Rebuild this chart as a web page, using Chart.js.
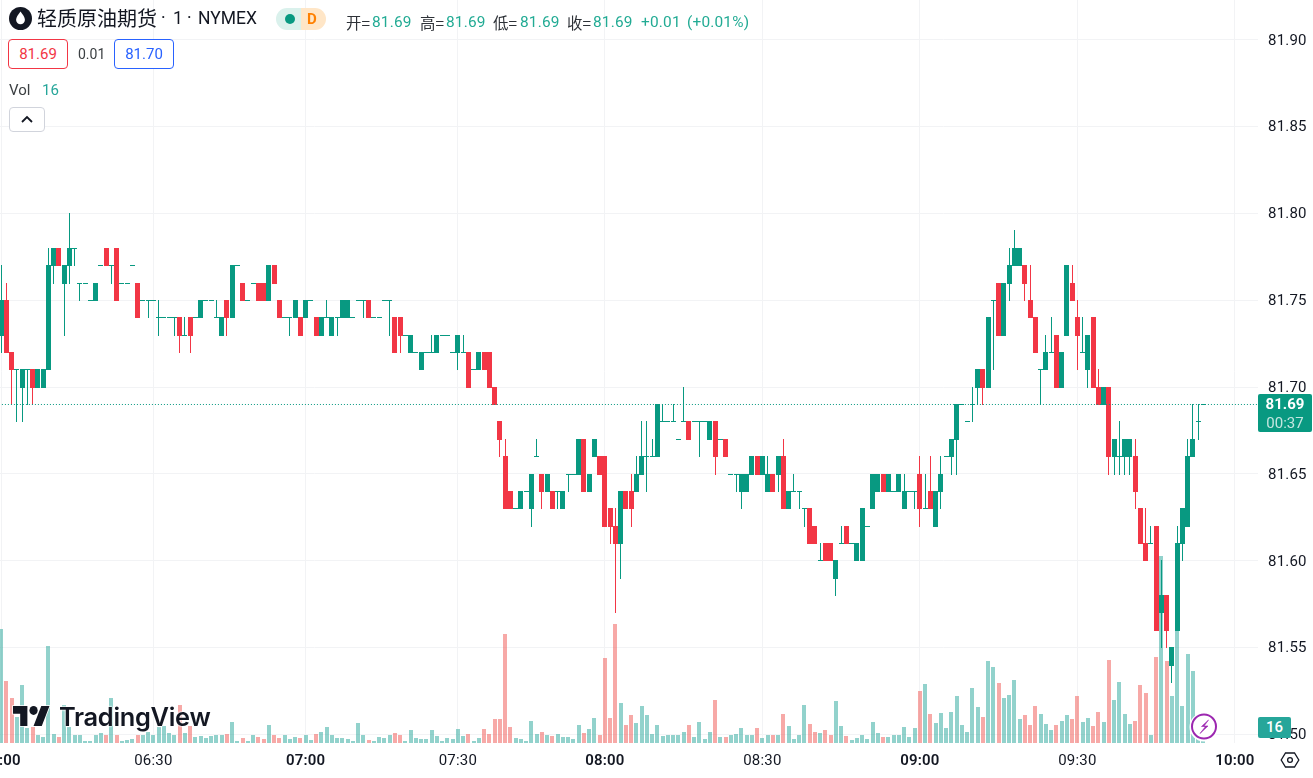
<!DOCTYPE html>
<html>
<head>
<meta charset="utf-8">
<title>轻质原油期货</title>
<script src="https://cdn.jsdelivr.net/npm/chart.js@4/dist/chart.umd.min.js"></script>
<style>
  html, body { margin: 0; padding: 0; background: #fff; overflow: hidden; }
  #wrap { position: relative; width: 1313px; height: 778px; overflow: hidden; font-family: Roboto, "Noto Sans CJK SC", sans-serif; color: #131722; }
  #wrap canvas { position: absolute; left: 0; top: 0; }
  .t { position: absolute; white-space: nowrap; line-height: 20px; }
  .up { color: #22ab94; }
  .h { font-size: 15.4px; top: 12px; }
  .cj { font-family: "Noto Sans CJK SC", sans-serif; color: #2e3238; }
  .box { position: absolute; box-sizing: border-box; border-radius: 4px; background: #fff; text-align: center; font-size: 15px; height: 30px; line-height: 28px; top: 39px; width: 60px; }
  .badge { position: absolute; color: #fff; text-align: center; border-radius: 2px; }
</style>
</head>
<body>
<div id="wrap">
  <canvas id="priceChart" width="1313" height="778"></canvas>

  <!-- 左上角标题 -->
  <svg style="position:absolute;left:9px;top:7px" width="23" height="23" viewBox="0 0 23 23">
    <circle cx="11.5" cy="11.5" r="11.5" fill="#131722"/>
    <path d="M11.5 4.5c2.6 3.4 4.4 5.9 4.4 8.3a4.4 4.4 0 0 1-8.8 0c0-2.4 1.8-4.9 4.4-8.3z" fill="#fff"/>
  </svg>
  <span class="t" style="left:37px;top:8px;font-size:20px;font-family:'Noto Sans CJK SC',sans-serif;color:#131722">轻质原油期货</span>
  <span class="t" style="left:161px;top:8px;font-size:17.5px;color:#131722">·</span>
  <span class="t" style="left:173px;top:8px;font-size:17.5px;color:#131722">1</span>
  <span class="t" style="left:187px;top:8px;font-size:17.5px;color:#131722">·</span>
  <span class="t" style="left:198px;top:8px;font-size:17.5px;color:#131722">NYMEX</span>

  <div style="position:absolute;left:276px;top:8px;width:25px;height:22px;background:#daf1ec;border-radius:11px 0 0 11px"></div>
  <div style="position:absolute;left:301px;top:8px;width:25px;height:22px;background:#ffe6c7;border-radius:0 11px 11px 0"></div>
  <div style="position:absolute;left:285px;top:14px;width:10px;height:10px;background:#089981;border-radius:50%"></div>
  <span class="t" style="left:307px;top:9px;font-size:15px;font-weight:700;color:#ff8000">D</span>

  <span class="t h cj" style="left:346px">开=</span><span class="t h up" style="left:372px;letter-spacing:.2px">81.69</span>
  <span class="t h cj" style="left:420px">高=</span><span class="t h up" style="left:446px;letter-spacing:.2px">81.69</span>
  <span class="t h cj" style="left:493px">低=</span><span class="t h up" style="left:520px;letter-spacing:.2px">81.69</span>
  <span class="t h cj" style="left:567px">收=</span><span class="t h up" style="left:593px;letter-spacing:.2px">81.69</span>
  <span class="t h up" style="left:641px;letter-spacing:.2px">+0.01</span>
  <span class="t h up" style="left:687px;letter-spacing:.2px">(+0.01%)</span>

  <div class="box" style="left:8px;border:1px solid #f23645;color:#f23645">81.69</div>
  <span class="t" style="left:78px;top:44px;font-size:14px;color:#3c4043">0.01</span>
  <div class="box" style="left:114px;border:1px solid #2962ff;color:#2962ff">81.70</div>

  <span class="t" style="left:9px;top:80px;font-size:15px;color:#3c4043">Vol</span>
  <span class="t" style="left:42px;top:80px;font-size:15px;color:#26a69a">16</span>
  <div style="position:absolute;left:9px;top:107px;width:36px;height:25px;box-sizing:border-box;border:1px solid #d1d4dc;border-radius:4px;background:#fff"></div>
  <svg style="position:absolute;left:20px;top:115px" width="14" height="9" viewBox="0 0 14 9"><path d="M2 7l5-5 5 5" fill="none" stroke="#131722" stroke-width="1.8"/></svg>

  <!-- TradingView 水印 -->
  <svg style="position:absolute;left:13px;top:706px;overflow:visible" width="37" height="20" viewBox="0 4 36 18" preserveAspectRatio="none">
    <path d="M14 22H7V11H0V4h14v18zM28 22h-8l7.5-18h8L28 22z" fill="#131722" stroke="#fff" stroke-width="1.5" paint-order="stroke"/>
    <circle cx="20" cy="8" r="4" fill="#131722"/>
  </svg>
  <span class="t" style="left:59px;top:707px;font-family:Inter,sans-serif;font-weight:600;font-size:25.4px;letter-spacing:-.3px;color:#131722;text-shadow:0 0 2px #fff,0 0 2px #fff,0 0 2px #fff">TradingView</span>

  <!-- 闪电图标 -->
  <svg style="position:absolute;left:1189px;top:712px" width="30" height="30" viewBox="0 0 30 30">
    <circle cx="15" cy="15" r="14.5" fill="#fff"/>
    <circle cx="15" cy="14.5" r="12" fill="#fff" stroke="#9c27b0" stroke-width="2"/>
    <path d="M19.5 8l-7 6.5h4l-5.5 7 8-7.5h-4z" fill="#9c27b0" stroke="#9c27b0" stroke-width=".6"/>
  </svg>

  <!-- 右侧价格标签 -->
  <div class="badge" style="left:1258px;top:394px;width:54px;height:38px;background:#089981">
    <div style="font-size:15px;font-weight:700;line-height:19px;margin-top:1px">81.69</div>
    <div style="font-size:15px;line-height:18px;color:#c4e6e0">00:37</div>
  </div>
  <div class="badge" style="left:1258px;top:717px;width:33px;height:21px;line-height:21px;font-size:15px;font-weight:500;background:#26a69a">16</div>

  <svg style="position:absolute;left:1279px;top:749px" width="22" height="22" viewBox="0 0 22 22">
    <path d="M6.5 4h9l4.3 7-4.3 7h-9L2.2 11z" fill="none" stroke="#131722" stroke-width="1.3"/>
    <circle cx="11" cy="11" r="2.4" fill="none" stroke="#131722" stroke-width="1.3"/>
  </svg>
</div>

<script>
// K线数据 (1分钟)
const opens = [
  81.73,81.75,81.72,81.71,81.70,81.71,81.71,81.70,81.70,81.71,
  81.77,81.78,81.76,81.77,81.78,81.76,81.76,81.75,81.75,81.77,
  81.78,81.77,81.78,81.76,81.76,81.77,81.76,81.75,81.75,81.75,
  81.74,81.74,81.74,81.74,81.74,81.73,81.74,81.74,81.74,81.75,
  81.75,81.74,81.73,81.75,81.74,81.77,81.76,81.75,81.76,81.76,
  81.76,81.75,81.77,81.75,81.74,81.74,81.74,81.74,81.74,81.75,
  81.74,81.73,81.74,81.73,81.74,81.74,81.74,81.74,81.75,81.75,
  81.75,81.74,81.74,81.75,81.75,81.74,81.74,81.73,81.72,81.72,
  81.71,81.72,81.72,81.72,81.73,81.73,81.72,81.72,81.72,81.72,
  81.71,81.71,81.72,81.72,81.70,81.68,81.66,81.64,81.63,81.63,
  81.64,81.63,81.66,81.65,81.64,81.64,81.64,81.63,81.65,81.65,
  81.65,81.67,81.64,81.66,81.66,81.66,81.63,81.62,81.61,81.64,
  81.64,81.64,81.65,81.66,81.66,81.66,81.68,81.68,81.68,81.67,
  81.68,81.68,81.68,81.68,81.68,81.67,81.68,81.67,81.67,81.65,
  81.65,81.64,81.64,81.65,81.66,81.65,81.64,81.65,81.65,81.66,
  81.63,81.64,81.64,81.63,81.63,81.62,81.60,81.61,81.61,81.59,
  81.61,81.62,81.61,81.60,81.60,81.62,81.63,81.64,81.65,81.64,
  81.64,81.64,81.63,81.64,81.64,81.65,81.63,81.64,81.62,81.64,
  81.66,81.66,81.67,81.69,81.68,81.69,81.70,81.71,81.70,81.75,
  81.76,81.73,81.76,81.77,81.77,81.77,81.75,81.74,81.71,81.71,
  81.72,81.73,81.70,81.73,81.76,81.74,81.72,81.71,81.74,81.70,
  81.69,81.70,81.66,81.66,81.66,81.66,81.66,81.63,81.61,81.61,
  81.62,81.57,81.58,81.54,81.56,81.61,81.62,81.66,81.68,81.69
];
const highs = [
  81.77,81.76,81.72,81.71,81.71,81.71,81.71,81.71,81.71,81.78,
  81.78,81.78,81.77,81.80,81.78,81.76,81.76,81.75,81.76,81.77,
  81.78,81.77,81.78,81.76,81.76,81.77,81.76,81.75,81.75,81.75,
  81.75,81.74,81.74,81.74,81.74,81.74,81.74,81.74,81.75,81.75,
  81.75,81.75,81.74,81.75,81.77,81.77,81.76,81.75,81.76,81.76,
  81.76,81.77,81.77,81.75,81.74,81.74,81.75,81.74,81.75,81.75,
  81.74,81.74,81.75,81.74,81.74,81.75,81.75,81.74,81.75,81.75,
  81.75,81.74,81.74,81.75,81.75,81.74,81.74,81.73,81.73,81.72,
  81.72,81.72,81.73,81.73,81.73,81.73,81.72,81.73,81.73,81.72,
  81.71,81.72,81.72,81.72,81.70,81.68,81.67,81.64,81.63,81.64,
  81.64,81.65,81.67,81.65,81.65,81.64,81.64,81.64,81.65,81.65,
  81.67,81.67,81.65,81.67,81.66,81.66,81.63,81.63,81.64,81.64,
  81.65,81.66,81.68,81.68,81.67,81.69,81.69,81.68,81.69,81.67,
  81.70,81.68,81.68,81.68,81.68,81.68,81.68,81.67,81.67,81.65,
  81.65,81.65,81.65,81.66,81.66,81.66,81.66,81.65,81.66,81.67,
  81.64,81.65,81.64,81.63,81.63,81.62,81.61,81.61,81.61,81.60,
  81.62,81.62,81.61,81.61,81.63,81.62,81.65,81.65,81.65,81.65,
  81.64,81.65,81.65,81.64,81.64,81.66,81.65,81.66,81.64,81.66,
  81.66,81.67,81.69,81.69,81.68,81.70,81.71,81.71,81.74,81.75,
  81.76,81.76,81.78,81.79,81.78,81.77,81.77,81.74,81.71,81.73,
  81.74,81.73,81.72,81.77,81.77,81.75,81.74,81.73,81.74,81.71,
  81.70,81.70,81.67,81.68,81.67,81.67,81.67,81.63,81.63,81.62,
  81.62,81.60,81.58,81.55,81.62,81.63,81.67,81.69,81.69,81.69
];
const lows = [
  81.72,81.72,81.69,81.68,81.68,81.69,81.69,81.70,81.70,81.71,
  81.76,81.77,81.73,81.76,81.77,81.75,81.76,81.75,81.75,81.77,
  81.77,81.76,81.75,81.76,81.76,81.77,81.74,81.75,81.74,81.75,
  81.73,81.74,81.74,81.73,81.72,81.73,81.72,81.74,81.74,81.75,
  81.75,81.74,81.73,81.73,81.74,81.77,81.75,81.75,81.76,81.75,
  81.75,81.75,81.76,81.74,81.74,81.73,81.74,81.73,81.74,81.75,
  81.73,81.73,81.74,81.73,81.73,81.74,81.74,81.74,81.75,81.74,
  81.74,81.74,81.74,81.75,81.73,81.72,81.72,81.73,81.72,81.72,
  81.71,81.72,81.72,81.72,81.73,81.73,81.72,81.71,81.72,81.70,
  81.71,81.71,81.71,81.70,81.69,81.66,81.63,81.63,81.63,81.63,
  81.64,81.62,81.66,81.63,81.64,81.63,81.63,81.63,81.64,81.65,
  81.65,81.64,81.64,81.66,81.65,81.62,81.61,81.57,81.59,81.63,
  81.62,81.64,81.65,81.64,81.66,81.66,81.68,81.68,81.68,81.67,
  81.68,81.67,81.68,81.66,81.68,81.67,81.65,81.67,81.66,81.65,
  81.64,81.63,81.64,81.65,81.65,81.65,81.64,81.64,81.64,81.63,
  81.63,81.64,81.63,81.62,81.61,81.61,81.60,81.60,81.60,81.58,
  81.61,81.61,81.61,81.60,81.60,81.62,81.63,81.64,81.64,81.64,
  81.64,81.64,81.63,81.64,81.63,81.62,81.63,81.63,81.62,81.63,
  81.66,81.65,81.65,81.69,81.68,81.68,81.69,81.69,81.70,81.71,
  81.73,81.73,81.75,81.77,81.77,81.75,81.74,81.72,81.69,81.71,
  81.72,81.70,81.70,81.73,81.75,81.71,81.72,81.70,81.70,81.69,
  81.69,81.65,81.65,81.65,81.65,81.65,81.63,81.61,81.60,81.61,
  81.56,81.55,81.55,81.53,81.56,81.60,81.62,81.66,81.67,81.69
];
const closes = [
  81.75,81.72,81.71,81.71,81.71,81.71,81.70,81.71,81.71,81.77,
  81.78,81.77,81.77,81.78,81.78,81.76,81.76,81.75,81.76,81.77,
  81.77,81.77,81.75,81.76,81.76,81.77,81.74,81.75,81.75,81.75,
  81.74,81.74,81.74,81.74,81.73,81.73,81.73,81.74,81.75,81.75,
  81.75,81.74,81.74,81.74,81.77,81.77,81.75,81.75,81.76,81.75,
  81.75,81.77,81.76,81.74,81.74,81.74,81.75,81.73,81.75,81.75,
  81.73,81.74,81.74,81.74,81.74,81.75,81.75,81.74,81.75,81.75,
  81.74,81.74,81.74,81.75,81.75,81.72,81.73,81.73,81.73,81.72,
  81.72,81.72,81.72,81.73,81.73,81.73,81.72,81.73,81.72,81.70,
  81.71,81.72,81.71,81.70,81.69,81.67,81.63,81.63,81.63,81.64,
  81.64,81.65,81.66,81.64,81.65,81.63,81.64,81.64,81.65,81.65,
  81.67,81.64,81.65,81.67,81.65,81.62,81.62,81.61,81.64,81.63,
  81.63,81.65,81.66,81.66,81.66,81.69,81.68,81.68,81.68,81.67,
  81.68,81.67,81.68,81.68,81.68,81.68,81.66,81.67,81.66,81.65,
  81.65,81.65,81.65,81.66,81.65,81.66,81.65,81.64,81.66,81.63,
  81.64,81.64,81.64,81.63,81.61,81.61,81.60,81.60,81.60,81.60,
  81.61,81.61,81.61,81.61,81.63,81.62,81.65,81.65,81.64,81.65,
  81.64,81.65,81.64,81.64,81.64,81.63,81.63,81.63,81.64,81.65,
  81.66,81.67,81.69,81.69,81.68,81.69,81.71,81.70,81.74,81.75,
  81.73,81.76,81.77,81.78,81.78,81.76,81.74,81.72,81.71,81.72,
  81.72,81.70,81.72,81.77,81.75,81.73,81.72,81.73,81.70,81.69,
  81.70,81.66,81.67,81.66,81.67,81.67,81.64,81.61,81.60,81.61,
  81.56,81.58,81.56,81.55,81.61,81.63,81.66,81.67,81.68,81.69
];
const volumes = [
  121,66,48,28,62,16,17,9,6,103,
  10,6,40,17,8,8,2,2,8,11,
  8,48,8,2,3,4,8,9,12,9,
  17,18,11,8,40,11,18,6,7,5,
  7,8,8,10,22,2,5,2,8,6,
  4,19,9,5,8,4,6,5,9,3,
  10,12,17,8,5,5,4,2,21,8,
  3,2,6,5,8,11,8,2,14,5,
  4,4,14,7,2,5,4,15,7,10,
  2,5,15,10,25,25,116,17,5,4,
  2,23,10,12,9,7,10,6,6,4,
  19,11,15,27,9,90,27,127,42,19,
  30,21,39,30,10,19,7,9,8,8,
  12,19,6,22,4,12,46,6,6,8,
  10,16,9,8,16,5,8,8,8,31,
  18,4,9,40,20,12,11,14,8,45,
  18,7,3,5,9,4,22,11,6,6,
  8,8,17,6,16,55,63,31,21,32,
  16,33,50,19,12,59,38,28,87,81,
  64,48,51,67,25,30,19,39,31,20,
  14,19,23,30,25,50,22,27,18,33,
  22,88,46,65,31,20,23,62,53,8,
  91,199,87,50,126,39,95,77,10,16
];

// 坐标轴
const timeTickBars = [0, 29, 58, 87, 115, 145, 175, 205, 235];
const timeTickLabels = ['06:00', '06:30', '07:00', '07:30', '08:00', '08:30', '09:00', '09:30', '10:00'];
const priceTicks = [81.50, 81.55, 81.60, 81.65, 81.70, 81.75, 81.80, 81.85, 81.90];
const lastPrice = 81.69;

const UP = '#089981', DOWN = '#f23645';
const VOL_UP = 'rgba(38,166,154,0.5)', VOL_DOWN = 'rgba(239,83,80,0.5)';
const GRID = '#f2f3f5';
const bars = closes.map((c, i) => i);
const isUp = i => closes[i] >= opens[i];

// 像素对齐, 不然1px的影线会发虚
const snapBars = {
  id: 'snapBars',
  afterDatasetsUpdate(chart) {
    chart.getSortedVisibleDatasetMetas().forEach(meta => {
      if (meta.type !== 'bar') return;
      const isVol = meta.yAxisID === 'yVol';
      meta.data.forEach(el => {
        if (isVol) {
          el.x = Math.round(el.x);
          el.y = Math.round(el.y);
          el.base = Math.round(el.base);
        } else {
          const top = Math.round(Math.min(el.y, el.base) - 0.4);
          const bottom = Math.round(Math.max(el.y, el.base) - 0.4) + 1;
          el.x = Math.floor(el.x) + 0.5;
          el.y = top;
          el.base = bottom;
          el.height = bottom - top;
        }
      });
    });
  },
  beforeDraw(chart) {
    chart.ctx.letterSpacing = '0.2px';
  }
};

const ctx = document.getElementById('priceChart').getContext('2d');
new Chart(ctx, {
  type: 'bar',
  data: {
    datasets: [
      {
        type: 'line',
        data: [{ x: -1, y: lastPrice }, { x: 240, y: lastPrice }],
        borderColor: UP,
        borderWidth: 1,
        borderDash: [1, 2],
        pointRadius: 0,
        order: 0
      },
      {
        data: bars.map(i => ({ x: i, y: [Math.min(opens[i], closes[i]), Math.max(opens[i], closes[i])] })),
        backgroundColor: bars.map(i => isUp(i) ? UP : DOWN),
        barThickness: 5,
        inflateAmount: 0,
        grouped: false,
        order: 1
      },
      {
        data: bars.map(i => ({ x: i, y: [lows[i], highs[i]] })),
        backgroundColor: bars.map(i => isUp(i) ? UP : DOWN),
        barThickness: 1,
        inflateAmount: 0,
        grouped: false,
        order: 2
      },
      {
        data: bars.map(i => ({ x: i, y: volumes[i] })),
        backgroundColor: bars.map(i => isUp(i) ? VOL_UP : VOL_DOWN),
        barThickness: 4,
        inflateAmount: 0,
        grouped: false,
        yAxisID: 'yVol',
        order: 3
      }
    ]
  },
  options: {
    responsive: false,
    animation: false,
    devicePixelRatio: 1,
    events: [],
    layout: { padding: 0 },
    plugins: { legend: { display: false }, tooltip: { enabled: false }, title: { display: false } },
    scales: {
      x: {
        type: 'linear',
        offset: false,
        min: -0.223,
        max: 239.4,
        border: { display: false },
        grid: { color: GRID, lineWidth: 1, drawTicks: false, offset: false },
        afterBuildTicks: s => { s.ticks = timeTickBars.map(v => ({ value: v })); },
        afterFit: s => { s.height = 35; s.paddingLeft = 0; s.paddingRight = 0; },
        ticks: {
          autoSkip: false,
          maxRotation: 0,
          padding: 9,
          color: '#131722',
          font: c => ({
            family: 'Roboto',
            size: 15,
            weight: timeTickLabels[c.index] && timeTickLabels[c.index].endsWith(':00') ? '600' : '400'
          }),
          callback: (v, i) => timeTickLabels[i]
        }
      },
      y: {
        position: 'right',
        min: 81.49503,
        max: 81.92298,
        border: { display: false },
        grid: { color: GRID, lineWidth: 1, drawTicks: false },
        afterBuildTicks: s => { s.ticks = priceTicks.map(v => ({ value: v })); },
        afterFit: s => { s.width = 55; s.paddingTop = 0; s.paddingBottom = 0; },
        ticks: {
          autoSkip: false,
          padding: 10,
          labelOffset: 1,
          color: '#131722',
          font: { family: 'Roboto', size: 15 },
          callback: v => v.toFixed(2)
        }
      },
      yVol: {
        display: false,
        position: 'right',
        min: 0,
        max: 790,
        grid: { display: false }
      }
    }
  },
  plugins: [snapBars]
});
</script>
</body>
</html>
